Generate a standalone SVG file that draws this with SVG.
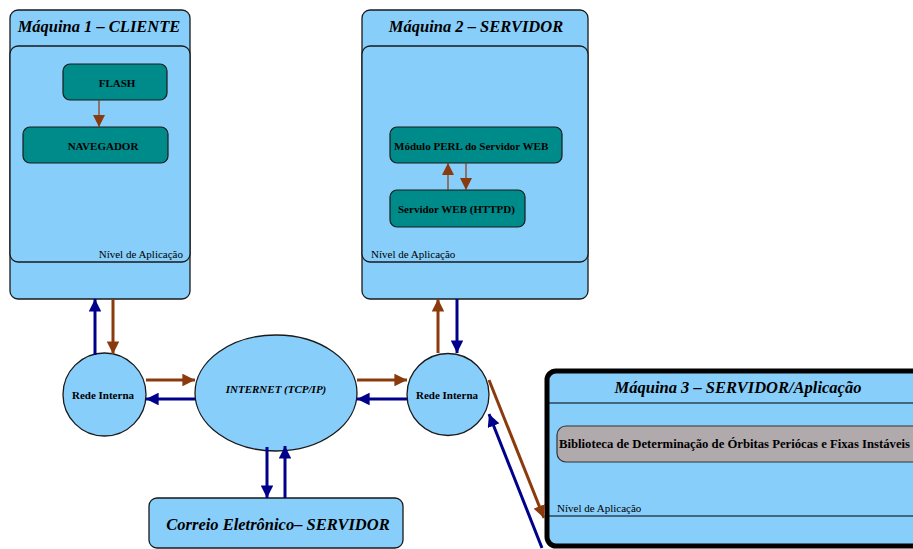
<svg xmlns="http://www.w3.org/2000/svg" width="913" height="549" viewBox="0 0 913 549">
<style>
.box{fill:#87CEFA;stroke:#1a1a1a;stroke-width:1.3}
.teal{fill:#008B8B;stroke:#1a1a1a;stroke-width:1.2}
.t{font-family:"Liberation Serif",serif;fill:#000}
.title{font-size:16.5px;font-weight:bold;font-style:italic}
.lbl{font-size:11px;font-weight:bold}
.lvl{font-size:11px}
.br{stroke:#8B3A0E;stroke-width:3;fill:none}
.bl{stroke:#00008B;stroke-width:3;fill:none}
.brt{stroke:#8B3A0E;stroke-width:1.2;fill:none}
</style>
<defs>
<marker id="ab" viewBox="0 0 10 10" refX="10" refY="5" markerWidth="4.2" markerHeight="4.2" orient="auto" markerUnits="strokeWidth"><path d="M0,0 L10,5 L0,10 z" fill="#8B3A0E"/></marker>
<marker id="al" viewBox="0 0 10 10" refX="10" refY="5" markerWidth="4.2" markerHeight="4.2" orient="auto" markerUnits="strokeWidth"><path d="M0,0 L10,5 L0,10 z" fill="#00008B"/></marker>
<marker id="as" viewBox="0 0 10 10" refX="10" refY="5" markerWidth="10" markerHeight="10" orient="auto" markerUnits="strokeWidth"><path d="M0,0 L10,5 L0,10 z" fill="#8B3A0E"/></marker>
</defs>

<g id="maquina1">
<rect class="box" x="10" y="10" width="180" height="289" rx="8"/>
<rect class="box" x="10" y="46" width="180" height="216" rx="8"/>
<text class="t title" x="99" y="32" text-anchor="middle">Máquina 1 – CLIENTE</text>
<text class="t lvl" x="183" y="258" text-anchor="end">Nível de Aplicação</text>
</g>
<g id="flash">
<rect class="teal" x="63" y="64" width="104" height="36" rx="7"/>
<text class="t lbl" x="117" y="87" text-anchor="middle">FLASH</text>
</g>
<g id="navegador">
<rect class="teal" x="23" y="127" width="145" height="36" rx="7"/>
<text class="t lbl" x="103" y="150" text-anchor="middle">NAVEGADOR</text>
</g>

<g id="maquina2">
<rect class="box" x="362" y="10" width="226" height="289" rx="8"/>
<rect class="box" x="362" y="46" width="226" height="216" rx="8"/>
<text class="t title" x="476" y="32" text-anchor="middle">Máquina 2 – SERVIDOR</text>
<text class="t lvl" x="371" y="258">Nível de Aplicação</text>
</g>
<g id="perl">
<rect class="teal" x="390" y="127" width="172" height="36" rx="7"/>
<text class="t lbl" x="394" y="150">Módulo PERL do Servidor WEB</text>
</g>
<g id="httpd">
<rect class="teal" x="390" y="190" width="135" height="37" rx="7"/>
<text class="t lbl" x="398" y="213">Servidor WEB (HTTPD)</text>
</g>

<g id="rede1">
<circle class="box" cx="104.5" cy="394.5" r="41.5"/>
<text class="t lbl" x="103" y="399" text-anchor="middle">Rede Interna</text>
</g>
<g id="internet">
<ellipse class="box" cx="276" cy="393" rx="81" ry="58"/>
<text class="t lbl" x="276" y="393" text-anchor="middle" font-style="italic">INTERNET (TCP/IP)</text>
</g>
<g id="rede2">
<circle class="box" cx="448" cy="394.5" r="41"/>
<text class="t lbl" x="447" y="399" text-anchor="middle">Rede Interna</text>
</g>

<g id="correio">
<rect class="box" x="149" y="498" width="254" height="50" rx="8"/>
<text class="t title" x="278" y="530" text-anchor="middle">Correio Eletrônico– SERVIDOR</text>
</g>

<g id="maquina3">
<rect x="547" y="371" width="380" height="175" rx="9" fill="#87CEFA" stroke="#000" stroke-width="5"/>
<line x1="549" y1="403" x2="913" y2="403" stroke="#000" stroke-width="1.2"/>
<line x1="549" y1="516" x2="913" y2="516" stroke="#000" stroke-width="1.2"/>
<text class="t title" x="738" y="393" text-anchor="middle">Máquina 3 – SERVIDOR/Aplicação</text>
<text class="t lvl" x="557" y="512">Nível de Aplicação</text>
</g>
<g id="biblioteca">
<rect x="557" y="426" width="370" height="36" rx="9" fill="#B0AAAC" stroke="#333" stroke-width="1.2"/>
<text class="t" x="559" y="448" font-size="12.5" font-weight="bold" textLength="351" lengthAdjust="spacingAndGlyphs">Biblioteca de Determinação de Órbitas Periócas e Fixas Instáveis</text>
</g>

<g id="connectors">
<line class="brt" x1="99" y1="100" x2="99" y2="127" marker-end="url(#as)"/>
<line class="brt" x1="448" y1="190" x2="448" y2="163" marker-end="url(#as)"/>
<line class="brt" x1="466" y1="163" x2="466" y2="190" marker-end="url(#as)"/>

<line class="bl" x1="95" y1="355" x2="95" y2="299" marker-end="url(#al)"/>
<line class="br" x1="113" y1="299" x2="113" y2="354" marker-end="url(#ab)"/>

<line class="br" x1="146" y1="380" x2="195" y2="380" marker-end="url(#ab)"/>
<line class="bl" x1="195" y1="399" x2="146" y2="399" marker-end="url(#al)"/>

<line class="br" x1="357" y1="380" x2="407" y2="380" marker-end="url(#ab)"/>
<line class="bl" x1="407" y1="399" x2="357" y2="399" marker-end="url(#al)"/>

<line class="br" x1="438" y1="353" x2="438" y2="299" marker-end="url(#ab)"/>
<line class="bl" x1="457" y1="299" x2="457" y2="353" marker-end="url(#al)"/>

<line class="bl" x1="267" y1="447" x2="267" y2="498" marker-end="url(#al)"/>
<line class="bl" x1="285" y1="498" x2="285" y2="446" marker-end="url(#al)"/>

<line class="br" x1="489" y1="380" x2="544" y2="518" marker-end="url(#ab)"/>
<line class="bl" x1="542" y1="548" x2="489" y2="414" marker-end="url(#al)"/>
</g>
</svg>
